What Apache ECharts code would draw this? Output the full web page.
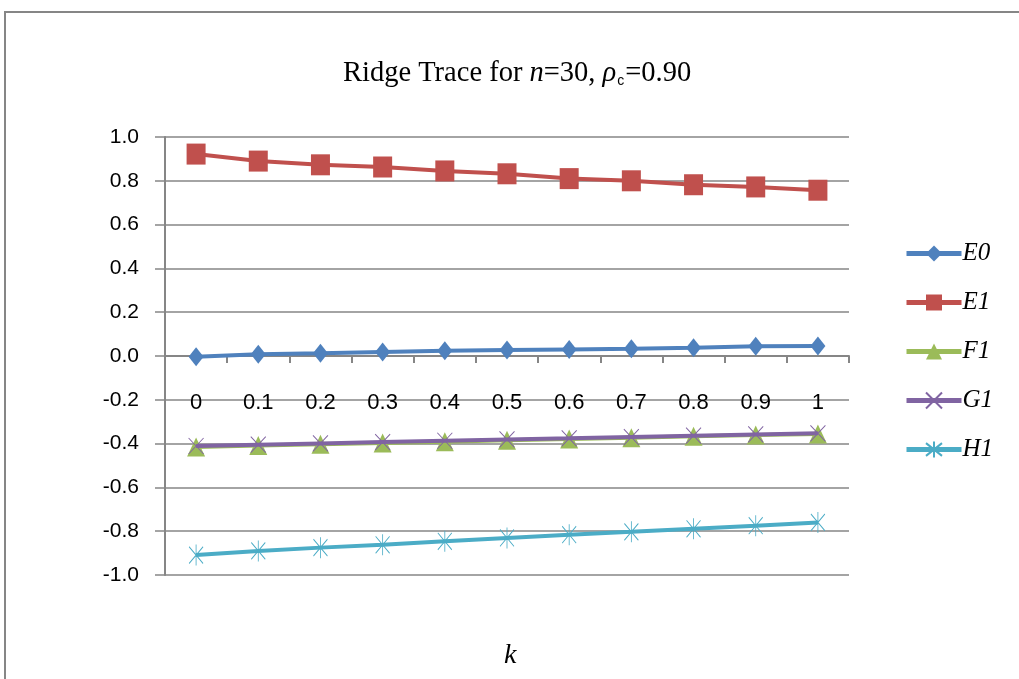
<!DOCTYPE html>
<html>
<head>
<meta charset="utf-8">
<script src="https://cdn.jsdelivr.net/npm/echarts@6/dist/echarts.min.js"></script>
<style>
  html, body { margin: 0; padding: 0; background: #fff; }
  #chart { width: 1019px; height: 679px; }
</style>
</head>
<body>
<div id="chart"></div>
<script>
// Ridge trace: standardized coefficient estimates against the ridge parameter k
const kValues = ['0', '0.1', '0.2', '0.3', '0.4', '0.5', '0.6', '0.7', '0.8', '0.9', '1'];
const yTicks = [-1.0, -0.8, -0.6, -0.4, -0.2, 0.0, 0.2, 0.4, 0.6, 0.8, 1.0];

const E0 = [-0.003, 0.008, 0.012, 0.018, 0.024, 0.027, 0.030, 0.033, 0.038, 0.044, 0.046];
const E1 = [0.922, 0.890, 0.873, 0.863, 0.845, 0.832, 0.810, 0.800, 0.782, 0.772, 0.757];
const F1 = [-0.415, -0.409, -0.403, -0.397, -0.391, -0.385, -0.379, -0.373, -0.367, -0.361, -0.356];
const G1 = [-0.411, -0.405, -0.399, -0.393, -0.387, -0.381, -0.376, -0.370, -0.364, -0.358, -0.353];
const H1 = [-0.909, -0.890, -0.875, -0.862, -0.846, -0.831, -0.816, -0.803, -0.789, -0.775, -0.760];

const seriesNames = ['E0', 'E1', 'F1', 'G1', 'H1'];
const seriesData = [E0, E1, F1, G1, H1];
const colors = ['#4F81BD', '#C0504D', '#9BBB59', '#8064A2', '#4BACC6'];

const gridColor = '#868686';
const gridTop = 137;
const gridBottom = 104;
const plotHeight = 679 - gridTop - gridBottom;

// marker shapes
const crossPath = 'path://M0,0L10,10M10,0L0,10';
const starPath = 'path://M0,1L10,9M10,1L0,9M5,0L5,10';
const markers = [
  { symbol: 'diamond', size: [15, 19], style: {} },
  { symbol: 'rect', size: [19, 21], style: {} },
  { symbol: 'triangle', size: [18, 19], style: {} },
  { symbol: crossPath, size: [15, 16], style: { color: 'none', borderWidth: 1 } },
  { symbol: starPath, size: [14, 21], style: { color: 'none', borderWidth: 1 } }
];

const series = seriesNames.map((name, i) => ({
  name: name,
  type: 'line',
  data: seriesData[i],
  symbol: markers[i].symbol,
  symbolSize: markers[i].size,
  showAllSymbol: true,
  lineStyle: { color: colors[i], width: 4 },
  itemStyle: Object.assign({ color: colors[i], borderColor: colors[i], borderWidth: 0 }, markers[i].style),
  emphasis: { disabled: true },
  z: i === 3 ? 4 : 3
}));

// the category axis sits on the zero line of the value axis
const yMin = yTicks[0];
const yMax = yTicks[yTicks.length - 1];
const zeroOffset = -plotHeight * (0 - yMin) / (yMax - yMin);

const chart = echarts.init(document.getElementById('chart'), null, { renderer: 'canvas' });

chart.setOption({
  animation: false,
  backgroundColor: '#ffffff',
  title: {
    left: 338,
    top: 54,
    text: '{a|Ridge Trace for }{i|n}{a|=30, }{i|ρ}{s|c}{a|=0.90}',
    textStyle: {
      fontWeight: 'normal',
      rich: {
        a: { fontFamily: 'Liberation Serif', fontWeight: 'normal', fontSize: 28.5, color: '#000' },
        i: { fontFamily: 'Liberation Serif', fontWeight: 'normal', fontStyle: 'italic', fontSize: 28.5, color: '#000' },
        s: { fontFamily: 'Liberation Sans', fontWeight: 'normal', fontSize: 14, color: '#000', verticalAlign: 'bottom', padding: [15, 1, 0, 1] }
      }
    }
  },
  legend: {
    orient: 'vertical',
    left: 899,
    top: 236,
    itemWidth: 55,
    itemHeight: 20,
    itemGap: 24,
    data: seriesNames,
    lineStyle: { width: 5 },
    textStyle: { fontFamily: 'Liberation Serif', fontStyle: 'italic', fontSize: 25, color: '#000', padding: [0, 0, 0, -4] }
  },
  grid: { left: 165, right: 170, top: gridTop, bottom: gridBottom, containLabel: false },
  xAxis: {
    type: 'category',
    data: kValues,
    boundaryGap: true,
    offset: zeroOffset,
    axisLine: { onZero: false, lineStyle: { color: gridColor, width: 2 } },
    axisTick: { show: true, alignWithLabel: false, length: 7, lineStyle: { color: gridColor, width: 2 } },
    axisLabel: { margin: 36, fontFamily: 'Liberation Sans', fontSize: 22, color: '#000' },
    splitLine: { show: false }
  },
  yAxis: {
    type: 'value',
    min: yMin,
    max: yMax,
    interval: 0.2,
    axisLine: { show: true, lineStyle: { color: gridColor, width: 2 } },
    axisTick: { show: true, length: 10, lineStyle: { color: gridColor, width: 1.5 } },
    axisLabel: {
      margin: 26,
      fontFamily: 'Liberation Sans',
      fontSize: 21,
      color: '#000',
      formatter: v => v.toFixed(1)
    },
    splitLine: { show: true, lineStyle: { color: gridColor, width: 1.5 } }
  },
  graphic: [
    {
      type: 'rect',
      shape: { x: 5, y: 12, width: 1200, height: 900 },
      style: { fill: 'none', stroke: gridColor, lineWidth: 2 },
      silent: true
    },
    {
      type: 'text',
      left: 504,
      top: 642,
      style: { text: 'k', fontFamily: 'Liberation Serif', fontStyle: 'italic', fontSize: 28, fill: '#000' }
    }
  ],
  series: series
});
</script>
</body>
</html>
